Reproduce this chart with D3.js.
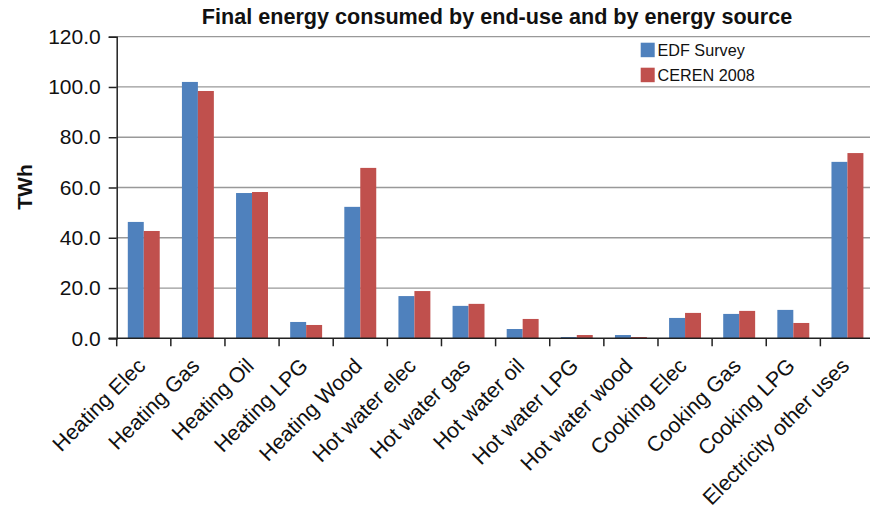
<!DOCTYPE html>
<html><head><meta charset="utf-8">
<script src="https://cdn.jsdelivr.net/npm/d3@7"></script>
<style>body{margin:0;background:#fff}svg{display:block;font-family:"Liberation Sans",Arial,sans-serif}</style>
</head><body><svg id="c" width="870" height="510"></svg>
<script>
const categories = ["Heating Elec","Heating Gas","Heating Oil","Heating LPG","Heating Wood","Hot water elec","Hot water gas","Hot water oil","Hot water LPG","Hot water wood","Cooking Elec","Cooking Gas","Cooking LPG","Electricity other uses"];
const seriesNames = ["EDF Survey","CEREN 2008"];
const edfSurvey = [46.3,102.0,57.8,6.5,52.3,16.8,12.9,3.7,0.5,1.3,8.1,9.7,11.3,70.2];
const ceren2008 = [42.7,98.4,58.2,5.3,67.8,18.8,13.7,7.7,1.3,0.5,10.1,10.9,6.1,73.7];
const yTicks = [0,20,40,60,80,100,120];
const colors = ["#4F81BD","#C0504D"];

const svg = d3.select("#c");
const L = 116.7, R = 874.5, T = 36.7, B = 338.3;
const y = d3.scaleLinear().domain([0,120]).range([B,T]);
const x0 = d3.scaleBand().domain(categories).range([L,R]).padding(0);
const bw = x0.bandwidth();
const x1 = d3.scaleBand().domain(seriesNames).range([bw*0.205, bw*0.795]).padding(0);
const values = [edfSurvey, ceren2008];

// gridlines
svg.append("g").selectAll("line").data(yTicks.filter(d=>d>0)).join("line")
  .attr("x1",L).attr("x2",R).attr("y1",d=>y(d)).attr("y2",d=>y(d))
  .attr("stroke","#999").attr("stroke-width",1.3);

// bars
const g = svg.append("g");
categories.forEach((c,i)=>{
  seriesNames.forEach((s,j)=>{
    g.append("rect").attr("x",x0(c)+x1(s)).attr("width",x1.bandwidth())
      .attr("y",y(values[j][i])).attr("height",B-y(values[j][i]))
      .attr("fill",colors[j]);
  });
});

// y axis
const ya = svg.append("g").attr("transform",`translate(${L},0)`)
  .call(d3.axisLeft(y).tickValues(yTicks).tickFormat(d3.format(".1f")).tickSize(8).tickPadding(8));
ya.select(".domain").attr("stroke","#222").attr("stroke-width",1.5);
ya.selectAll(".tick line").attr("stroke","#222").attr("stroke-width",1.5);
ya.selectAll(".tick text").attr("font-size",21).attr("fill","#111").attr("font-family","Liberation Sans, Arial, sans-serif");

// x axis
svg.append("line").attr("x1",L-8).attr("x2",R).attr("y1",B).attr("y2",B).attr("stroke","#222").attr("stroke-width",1.5);
const bounds = categories.map(c=>x0(c)).concat([R]);
svg.append("g").selectAll("line").data(bounds).join("line")
  .attr("x1",d=>d).attr("x2",d=>d).attr("y1",B).attr("y2",B+8)
  .attr("stroke","#222").attr("stroke-width",1.5);
svg.append("g").selectAll("text").data(categories).join("text")
  .attr("transform",d=>`translate(${x0(d)+bw/2+3},${B+29}) rotate(-45)`)
  .attr("text-anchor","end").attr("font-size",21.3).attr("fill","#111").text(d=>d);

// title
svg.append("text").attr("x",497).attr("y",24).attr("text-anchor","middle")
  .attr("font-size",21.6).attr("font-weight","bold").attr("fill","#111")
  .text("Final energy consumed by end-use and by energy source");

// y label
svg.append("text").attr("transform","translate(32,187) rotate(-90)").attr("text-anchor","middle")
  .attr("font-size",21).attr("font-weight","bold").attr("fill","#111").text("TWh");

// legend
const lg = svg.append("g");
seriesNames.forEach((s,j)=>{
  lg.append("rect").attr("x",640.7).attr("y",42.7+j*25).attr("width",14).attr("height",14.5).attr("fill",colors[j]);
  lg.append("text").attr("x",657.5).attr("y",56+j*24.7).attr("font-size",16.2).attr("fill","#111").text(s);
});
</script></body></html>
